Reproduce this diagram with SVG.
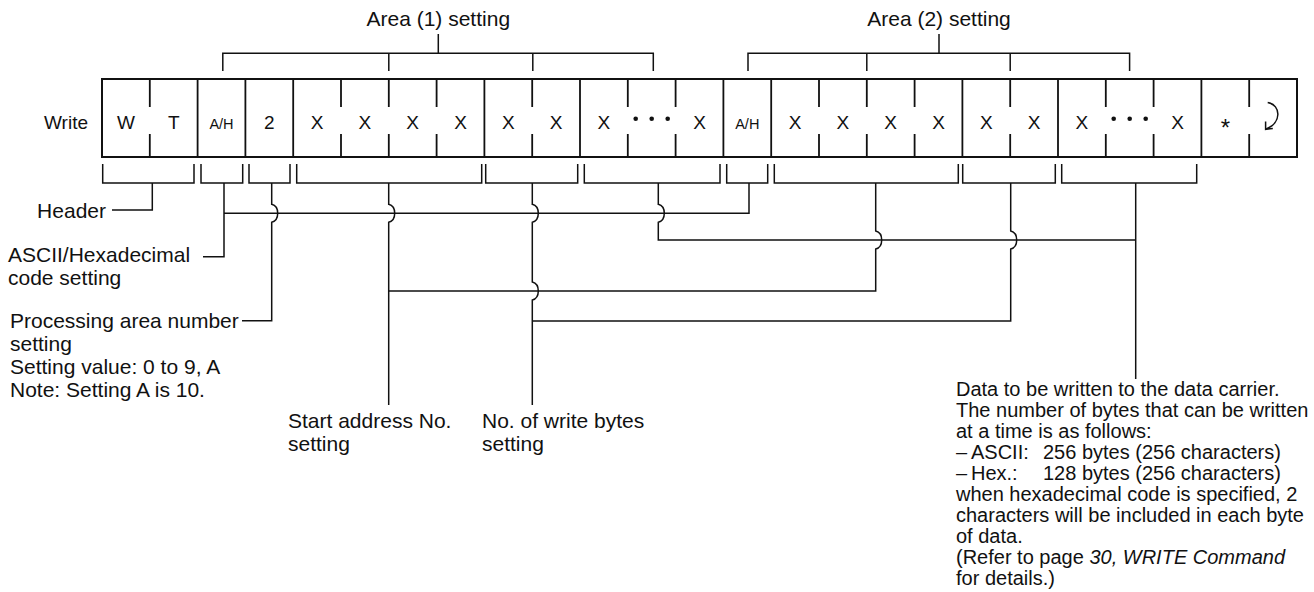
<svg xmlns="http://www.w3.org/2000/svg" width="1314" height="592" viewBox="0 0 1314 592">
<style>
.ln{stroke:#111;stroke-width:1.5;fill:none}
.sep{stroke:#111;stroke-width:1.8;fill:none}
.frame{stroke:#111;stroke-width:2;fill:#fff}
.t{font-family:"Liberation Sans",Arial,sans-serif;font-size:21px;fill:#111}
.r{font-family:"Liberation Sans",Arial,sans-serif;font-size:20px;fill:#111}
.c{font-family:"Liberation Sans",Arial,sans-serif;font-size:19px;fill:#111;text-anchor:middle}
.s{font-family:"Liberation Sans",Arial,sans-serif;font-size:14.5px;fill:#111;text-anchor:middle}
.dot{fill:#111}
</style>
<rect width="1314" height="592" fill="#fff"/>

<g id="area1-label">
<text class="t" x="438.3" y="26" text-anchor="middle">Area (1) setting</text>
<path class="ln" d="M438.3,34 V53.3 M222.8,71 V53.3 H653.3 V71 M388.8,53.3 V71 M532.8,53.3 V71"/>
</g>
<g id="area2-label">
<text class="t" x="939" y="26" text-anchor="middle">Area (2) setting</text>
<path class="ln" d="M939,34 V53.3 M748,71 V53.3 H1129.6 V71 M866.8,53.3 V71 M1010.2,53.3 V71"/>
</g>

<g id="write-label"><text class="t" x="88" y="129" text-anchor="end" style="font-size:19px">Write</text></g>

<g id="command-row">
<rect class="frame" x="102" y="79" width="1195" height="78"/>
<path class="sep" d="M197.6,79V157 M245.4,79V157 M293.2,79V157 M484.4,79V157 M580,79V157 M723.4,79V157 M771.2,79V157 M962.4,79V157 M1058,79V157 M1201.4,79V157"/>
<path class="sep" d="M149.8,79V107M149.8,134V157 M341,79V107M341,134V157 M388.8,79V107M388.8,134V157 M436.6,79V107M436.6,134V157 M532.2,79V107M532.2,134V157 M627.8,79V107M627.8,134V157 M675.6,79V107M675.6,134V157 M819,79V107M819,134V157 M866.8,79V107M866.8,134V157 M914.6,79V107M914.6,134V157 M1010.2,79V107M1010.2,134V157 M1105.8,79V107M1105.8,134V157 M1153.6,79V107M1153.6,134V157 M1249.2,79V107M1249.2,134V157"/>
<text class="c" x="125.9" y="129">W</text>
<text class="c" x="173.7" y="129">T</text>
<text class="s" x="221.5" y="128.5">A/H</text>
<text class="c" x="269.3" y="129">2</text>
<text class="c" x="317.1" y="129">X</text>
<text class="c" x="364.9" y="129">X</text>
<text class="c" x="412.7" y="129">X</text>
<text class="c" x="460.5" y="129">X</text>
<text class="c" x="508.3" y="129">X</text>
<text class="c" x="556.1" y="129">X</text>
<text class="c" x="603.9" y="129">X</text>
<circle class="dot" cx="635.7" cy="118.8" r="2.3"/><circle class="dot" cx="651.7" cy="118.8" r="2.3"/><circle class="dot" cx="667.7" cy="118.8" r="2.3"/>
<text class="c" x="699.5" y="129">X</text>
<text class="s" x="747.3" y="128.5">A/H</text>
<text class="c" x="795.1" y="129">X</text>
<text class="c" x="842.9" y="129">X</text>
<text class="c" x="890.7" y="129">X</text>
<text class="c" x="938.5" y="129">X</text>
<text class="c" x="986.3" y="129">X</text>
<text class="c" x="1034.1" y="129">X</text>
<text class="c" x="1081.9" y="129">X</text>
<circle class="dot" cx="1113.7" cy="118.8" r="2.3"/><circle class="dot" cx="1129.7" cy="118.8" r="2.3"/><circle class="dot" cx="1145.7" cy="118.8" r="2.3"/>
<text class="c" x="1177.5" y="129">X</text>
<text class="c" x="1225.3" y="136" style="font-size:24px">*</text>
<path class="ln" d="M1267.7,102.5 C1281.5,105 1281.5,123 1266.2,129 M1265.6,121.5 L1265.6,129.3 L1272.8,128.4"/>
</g>

<g id="field-brackets">
<path class="ln" d="M102.7,164 V183 H194 V164"/>
<path class="ln" d="M201,164 V183 H242.7 V164"/>
<path class="ln" d="M249,164 V183 H290 V164"/>
<path class="ln" d="M296.7,164 V183 H481.7 V164"/>
<path class="ln" d="M485.7,164 V183 H577.7 V164"/>
<path class="ln" d="M584.3,164 V183 H720 V164"/>
<path class="ln" d="M726.7,164 V183 H767.7 V164"/>
<path class="ln" d="M774.3,164 V183 H958.3 V164"/>
<path class="ln" d="M962.7,164 V183 H1055.3 V164"/>
<path class="ln" d="M1061.7,164 V183 H1196.7 V164"/>
</g>

<g id="connectors">
<path class="ln" d="M152.3,183 V210 H112"/>
<path class="ln" d="M224,183 V256.7 H203"/>
<path class="ln" d="M224,213.3 H749 V183"/>
<path class="ln" d="M271.7,183 V204.3 C279.7,206.3 279.7,220.3 271.7,222.3 V320.7 H242"/>
<path class="ln" d="M388.7,183 V204.3 C396.7,206.3 396.7,220.3 388.7,222.3 V405"/>
<path class="ln" d="M388.7,291 H875.7 V249 C883.7,247 883.7,233 875.7,231 V183"/>
<path class="ln" d="M532.3,183 V204.3 C540.3,206.3 540.3,220.3 532.3,222.3 V282 C540.3,284 540.3,298 532.3,300 V405"/>
<path class="ln" d="M532.3,321 H1010.7 V249 C1018.7,247 1018.7,233 1010.7,231 V183"/>
<path class="ln" d="M658.3,183 V204.3 C666.3,206.3 666.3,220.3 658.3,222.3 V240 H1135.7"/>
<path class="ln" d="M1135.7,183 V379"/>
</g>

<g id="label-header"><text class="t" x="106" y="218" text-anchor="end">Header</text></g>
<g id="label-ascii">
<text class="t" x="8" y="262">ASCII/Hexadecimal</text>
<text class="t" x="8" y="285">code setting</text>
</g>
<g id="label-area-number">
<text class="t" x="10" y="328">Processing area number</text>
<text class="t" x="10" y="351">setting</text>
<text class="t" x="10" y="374">Setting value: 0 to 9, A</text>
<text class="t" x="10" y="397">Note: Setting A is 10.</text>
</g>
<g id="label-start">
<text class="t" x="288" y="428">Start address No.</text>
<text class="t" x="288" y="451">setting</text>
</g>
<g id="label-bytes">
<text class="t" x="482" y="428">No. of write bytes</text>
<text class="t" x="482" y="451">setting</text>
</g>
<g id="label-data">
<text class="r" x="956" y="396">Data to be written to the data carrier.</text>
<text class="r" x="956" y="417">The number of bytes that can be written</text>
<text class="r" x="956" y="438">at a time is as follows:</text>
<text class="r" y="459"><tspan x="956">–</tspan><tspan x="971">ASCII:</tspan><tspan x="1043">256 bytes (256 characters)</tspan></text>
<text class="r" y="480"><tspan x="956">–</tspan><tspan x="971">Hex.:</tspan><tspan x="1043">128 bytes (256 characters)</tspan></text>
<text class="r" x="956" y="501">when hexadecimal code is specified, 2</text>
<text class="r" x="956" y="522">characters will be included in each byte</text>
<text class="r" x="956" y="543">of data.</text>
<text class="r" x="956" y="564">(Refer to page <tspan font-style="italic">30, WRITE Command</tspan></text>
<text class="r" x="956" y="585">for details.)</text>
</g>
</svg>
